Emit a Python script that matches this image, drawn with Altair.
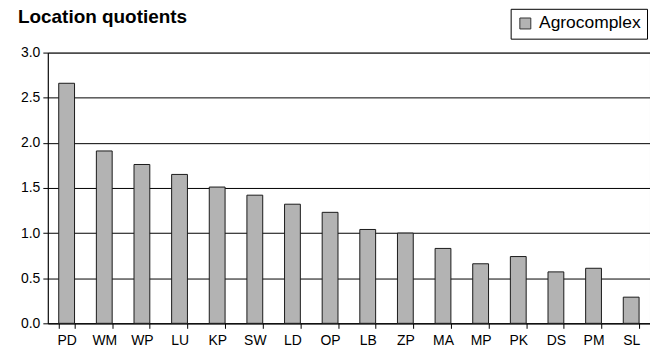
import altair as alt
import pandas as pd

regions = ["PD", "WM", "WP", "LU", "KP", "SW", "LD", "OP", "LB", "ZP", "MA", "MP", "PK", "DS", "PM", "SL"]
values = [2.66, 1.91, 1.76, 1.65, 1.51, 1.42, 1.32, 1.23, 1.04, 1.00, 0.83, 0.66, 0.74, 0.57, 0.61, 0.29]
series = ["Agrocomplex"] * len(regions)
title_text = ["Location quotients"]

df = pd.DataFrame({"region": regions, "lq": values, "series": series})
tdf = pd.DataFrame({"t": title_text})

FONT = "Liberation Sans"

bars = alt.Chart(df).mark_bar(stroke="#1a1a1a", strokeWidth=1).encode(
    x=alt.X("region:N", sort=regions, title=None,
            scale=alt.Scale(paddingInner=0.58, paddingOuter=0.29),
            axis=alt.Axis(labelAngle=0, tickBand="extent", tickSize=5, tickColor="#000",
                          domainColor="#000", labelFontSize=14, labelPadding=5,
                          labelColor="#000", labelFont=FONT, grid=False)),
    y=alt.Y("lq:Q", title=None,
            scale=alt.Scale(domain=[0, 3.0], nice=False),
            axis=alt.Axis(values=[0, 0.5, 1.0, 1.5, 2.0, 2.5, 3.0], format=".1f",
                          tickSize=5, tickColor="#000", domainColor="#000",
                          labelFontSize=14, labelPadding=3, labelColor="#000", labelFont=FONT,
                          grid=True, gridColor="#000", gridWidth=1)),
    color=alt.Color("series:N", title=None,
                    scale=alt.Scale(domain=["Agrocomplex"], range=["#b3b3b3"]),
                    legend=alt.Legend(orient="none", legendX=465, legendY=-44,
                                      symbolType="square", symbolSize=121,
                                      symbolStrokeColor="#333", symbolStrokeWidth=1,
                                      labelFontSize=17.5, labelFont=FONT, labelColor="#000",
                                      labelOffset=5,
                                      strokeColor="#000", padding=6, fillColor="white")),
)

title = alt.Chart(tdf).mark_text(
    font=FONT, fontSize=19, fontWeight="bold", color="#000",
    align="left", baseline="alphabetic"
).encode(text="t:N", x=alt.value(-30), y=alt.value(-30))

chart = alt.layer(bars, title).properties(
    width=605,
    height=272,
    autosize=alt.AutoSizeParams(type="none"),
    padding={"left": 40, "top": 44, "right": 0, "bottom": 28},
).configure_view(
    stroke="#808080", strokeWidth=1
)

chart.save("out.html", embed_options={"renderer": "svg", "actions": False})
